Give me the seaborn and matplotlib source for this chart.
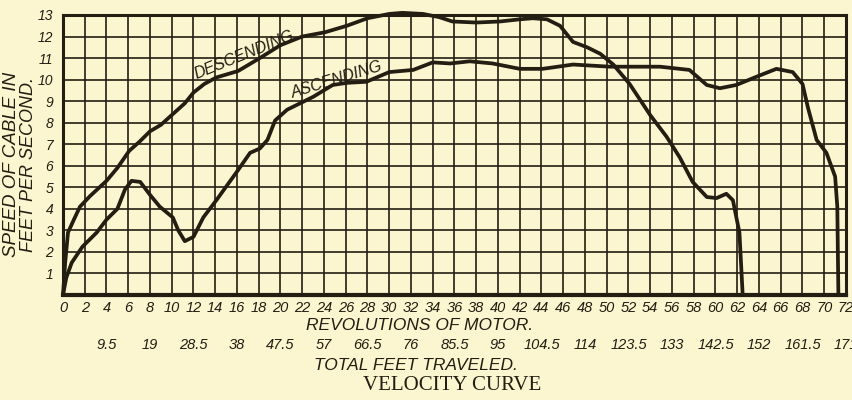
import matplotlib
matplotlib.use("Agg")
import matplotlib.pyplot as plt
import numpy as np
import pandas as pd
import seaborn as sns

# ---------------- data ----------------
rev_ticks = list(range(0, 73, 2))
speed_ticks = list(range(1, 14))
feet_revs = [4, 8, 12, 16, 20, 24, 28, 32, 36, 40, 44, 48, 52, 56, 60, 64, 68, 72]
feet_labels = ["9.5", "19", "28.5", "38", "47.5", "57", "66.5", "76", "85.5", "95",
               "104.5", "114", "123.5", "133", "142.5", "152", "161.5", "171"]

desc_x = [0, 0.2, 0.46, 1.0, 1.56, 2.5, 4, 5, 6.1, 7, 8, 9, 10.1, 11.2, 12, 13, 14.1,
          16.1, 18.1, 20, 22, 24.1, 26.1, 28, 30, 31.2, 33.1, 34.6, 35.8, 38, 40.2,
          42, 43.2, 44.5, 45.7, 46.9, 48.2, 49.4, 50.6, 52.1, 54, 55.5, 56.7, 57.9,
          59.2, 60.1, 61, 61.6, 62.2, 62.5]
desc_y = [0, 1.5, 2.9, 3.5, 4.1, 4.6, 5.3, 5.9, 6.7, 7.1, 7.6, 7.9, 8.4, 8.9, 9.4, 9.8, 10.1,
          10.4, 11.0, 11.6, 12.0, 12.2, 12.5, 12.85, 13.05, 13.1, 13.05, 12.9, 12.7, 12.65, 12.7,
          12.8, 12.85, 12.8, 12.5, 11.75, 11.5, 11.2, 10.7, 9.8, 8.35, 7.35, 6.4, 5.25,
          4.55, 4.5, 4.7, 4.4, 2.9, 0]

asc_x = [0, 0.3, 0.8, 1.8, 3.1, 4, 5, 5.7, 6.3, 7.1, 8, 8.9, 10.1, 10.6, 11.2, 12, 12.9,
         14.1, 16.1, 17.2, 18.1, 18.8, 19.5, 20.6, 21.8, 23, 24.8, 26.1, 27.9, 30, 32.2,
         34, 35.6, 37.4, 39.5, 42, 44.1, 46.9, 50.3, 54.9, 57.6, 59.2, 60.4, 61.9, 64.1,
         65.6, 67.1, 68, 68.5, 69.3, 70.2, 71, 71.2, 71.3]
asc_y = [0, 0.8, 1.5, 2.25, 2.9, 3.5, 4.0, 4.9, 5.3, 5.25, 4.65, 4.1, 3.6, 3.0, 2.5, 2.7, 3.6,
         4.4, 5.8, 6.6, 6.8, 7.2, 8.1, 8.6, 8.9, 9.2, 9.75, 9.85, 9.9, 10.35, 10.45,
         10.8, 10.75, 10.85, 10.75, 10.5, 10.5, 10.7, 10.6, 10.6, 10.45, 9.75, 9.6, 9.75, 10.2,
         10.5, 10.35, 9.8, 8.7, 7.2, 6.6, 5.5, 4.1, 0]

# ---------------- style ----------------
INK = "#231d12"
PAPER = "#fbf6d0"

sns.set_theme(style="white", rc={"axes.facecolor": PAPER, "figure.facecolor": PAPER})
plt.rcParams["font.family"] = ["Liberation Sans", "DejaVu Sans"]

W, H = 853, 400
fig = plt.figure(figsize=(W / 100, H / 100), dpi=100, facecolor=PAPER)
ax = fig.add_axes([63 / W, 1 - 295 / H, (846 - 63) / W, (295 - 15) / H])

df = pd.concat([
    pd.DataFrame({"rev": desc_x, "speed": desc_y, "run": "Descending"}),
    pd.DataFrame({"rev": asc_x, "speed": asc_y, "run": "Ascending"}),
], ignore_index=True)

sns.lineplot(data=df, x="rev", y="speed", hue="run", units="run",
             palette={"Descending": INK, "Ascending": INK},
             sort=False, estimator=None, linewidth=2.7, legend=False, ax=ax,
             zorder=5, clip_on=False)

ax.set_xlim(0, 72)
ax.set_ylim(0, 13)
ax.set_xticks(rev_ticks)
ax.set_xticklabels([str(v) for v in rev_ticks])
ax.set_yticks([0] + speed_ticks)
ax.set_yticklabels([""] + [str(v) for v in speed_ticks])
ax.grid(True, color=INK, linewidth=1.2)
ax.tick_params(axis="x", length=0, pad=4, colors=INK, labelsize=10.5)
ax.tick_params(axis="y", length=0, pad=7, colors=INK, labelsize=10)
for lab in ax.get_xticklabels() + ax.get_yticklabels():
    lab.set_style("italic")
    lab.set_color(INK)
for sp in ax.spines.values():
    sp.set_color(INK)
    sp.set_linewidth(2.2)
ax.spines["bottom"].set_linewidth(3)
ax.set_xlabel("")
ax.set_ylabel("")

# curve labels
ax.text(16.7, 11.15, "DESCENDING", rotation=22, ha="center", va="center",
        fontsize=11.5, style="italic", color=INK)
ax.text(25.2, 10.0, "ASCENDING", rotation=17, ha="center", va="center",
        fontsize=11.5, style="italic", color=INK)

# y-axis title (two lines)
fig.text(12 / W, 1 - 164 / H, "SPEED OF CABLE IN", rotation=90, ha="center",
         va="center", fontsize=13.5, style="italic", color=INK)
fig.text(29 / W, 1 - 165 / H, "FEET PER SECOND.", rotation=90, ha="center",
         va="center", fontsize=13, style="italic", color=INK)

# x-axis titles and secondary scale
fig.text(420 / W, 1 - 326 / H, "REVOLUTIONS OF MOTOR.", ha="center", va="center",
         fontsize=12.5, style="italic", color=INK)
tr = ax.get_xaxis_transform()
for rv, lab in zip(feet_revs, feet_labels):
    ax.text(rv, (295 - 345) / 280, lab, transform=tr, ha="center", va="center",
            fontsize=10.5, style="italic", color=INK, clip_on=False)
fig.text(416 / W, 1 - 365 / H, "TOTAL FEET TRAVELED.", ha="center", va="center",
         fontsize=12.5, style="italic", color=INK)
fig.text(452 / W, 1 - 386 / H, "VELOCITY CURVE", ha="center", va="center",
         fontsize=15, color=INK, family=["Liberation Serif", "DejaVu Serif"])

fig.savefig("out.png", dpi=100, facecolor=PAPER)
